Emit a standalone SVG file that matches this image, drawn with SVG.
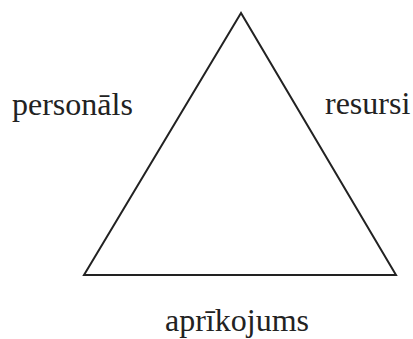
<svg xmlns="http://www.w3.org/2000/svg" width="413" height="339" viewBox="0 0 413 339">
<style>
.lbl{font-family:"Liberation Serif","Times New Roman",serif;font-size:32px;fill:#222}
.edge{fill:none;stroke:#222;stroke-width:2;stroke-linejoin:miter}
</style>
<rect width="413" height="339" fill="#fff"/>
<g id="connectors">
<polygon class="edge" points="241,13 84,275 396,275"/>
</g>
<g id="personals"><text class="lbl" x="12" y="115">personāls</text></g>
<g id="resursi"><text class="lbl" x="325" y="114">resursi</text></g>
<g id="aprikojums"><text class="lbl" x="165" y="331">aprīkojums</text></g>
</svg>
